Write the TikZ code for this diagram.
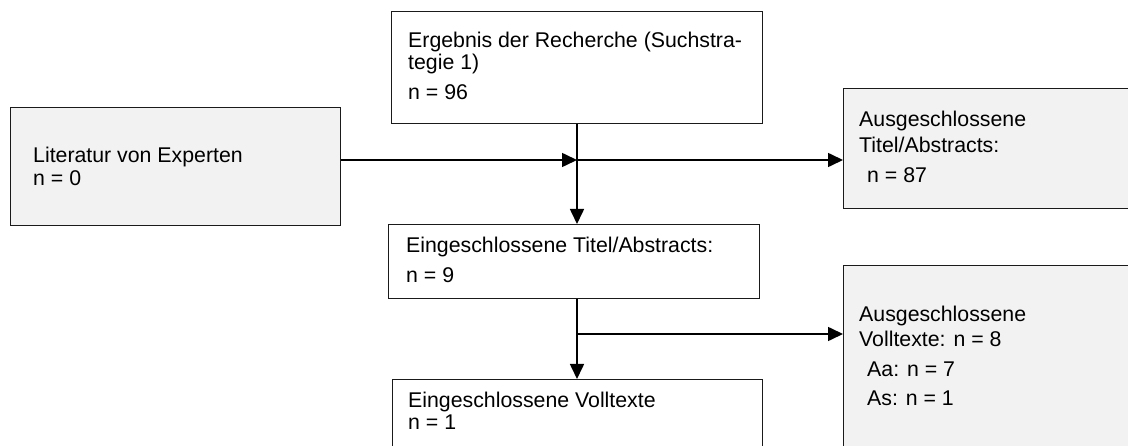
\documentclass[tikz,border=0pt]{standalone}
\usepackage{fontspec}
\setmainfont{Liberation Sans}
\usetikzlibrary{arrows.meta}
\definecolor{boxgray}{HTML}{F2F2F2}
\definecolor{edge}{HTML}{1A1A1A}
\begin{document}
\begin{tikzpicture}[x=1pt,y=-1pt,
  box/.style={draw=edge, line width=1.2pt, inner sep=0pt, anchor=north west},
  graybox/.style={box, fill=boxgray},
  txt/.style={anchor=base west, inner sep=0pt, font=\fontsize{21.3}{23}\selectfont},
  link/.style={line width=1.6pt, draw=black},
  conn/.style={link, -{Triangle[length=15pt,width=14pt]}}]
\useasboundingbox (0,0) rectangle (1128,446);
\clip (0,0) rectangle (1128,446);
\fill[white] (0,0) rectangle (1128,446);
% boxes
\node[box, minimum width=371pt, minimum height=112pt] (top) at (391,11) {};
\node[graybox, minimum width=330pt, minimum height=118pt] (left) at (10,107) {};
\node[graybox, minimum width=290pt, minimum height=120pt] (rtop) at (843,88) {};
\node[box, minimum width=371pt, minimum height=74pt] (mid) at (388,224) {};
\node[box, minimum width=370pt, minimum height=90pt] (bot) at (392,379) {};
\node[graybox, minimum width=290pt, minimum height=200pt] (rbot) at (843,265) {};
% texts
\node[txt] (t1) at (408,48) {Ergebnis der Recherche (Suchstra-};
\node[txt] (t2) at (408,70) {tegie 1)};
\node[txt] (t3) at (408,100) {n = 96};
\node[txt] (l1) at (33,163) {Literatur von Experten};
\node[txt] (l2) at (33,186) {n = 0};
\node[txt] (r1) at (859,127) {Ausgeschlossene};
\node[txt] (r2) at (859,153) {Titel/Abstracts:};
\node[txt] (r3) at (867,183) {n = 87};
\node[txt] (m1) at (406,253) {Eingeschlossene Titel/Abstracts:};
\node[txt] (m2) at (406,283) {n = 9};
\node[txt] (b1) at (408,408) {Eingeschlossene Volltexte};
\node[txt] (b2) at (408,430) {n = 1};
\node[txt] (s1) at (859,322) {Ausgeschlossene};
\node[txt] (s2) at (859,347) {Volltexte: n = 8};
\node[txt] (s3) at (867,377) {Aa: n = 7};
\node[txt] (s4) at (867,406) {As: n = 1};
% connectors
\coordinate (j1) at (577,160);
\coordinate (j2) at (577,334);
\draw[conn] (left.east |- j1) -- (j1);
\draw[conn] (j1) -- (rtop.west |- j1);
\draw[conn] (top.south -| j1) -- (mid.north -| j1);
\draw[conn] (mid.south -| j1) -- (bot.north -| j1);
\draw[conn] (j2) -- (rbot.west |- j2);
\end{tikzpicture}
\end{document}
